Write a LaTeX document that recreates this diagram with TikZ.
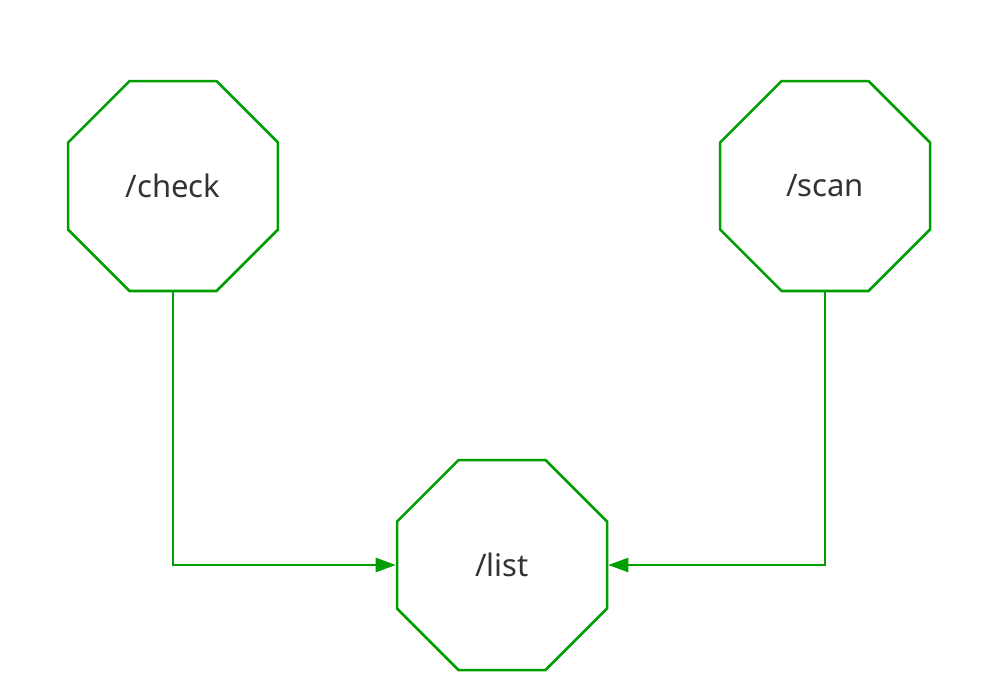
\documentclass[tikz,border=0pt]{standalone}
\usepackage{fontspec}
\setmainfont{Noto Sans}
\usetikzlibrary{shapes.geometric,arrows.meta}
\definecolor{grn}{HTML}{009E00}
\definecolor{txt}{HTML}{333333}
\tikzset{
  oct/.style={regular polygon, regular polygon sides=8,
    minimum size=227.3pt, inner sep=0pt, draw=grn, line width=2.5pt,
    text=txt, font=\fontsize{31}{36}\selectfont},
  conn/.style={draw=grn, line width=2.5pt, -{Triangle[length=20pt,width=14pt]}}
}
\begin{document}
\begin{tikzpicture}[x=1pt,y=-1pt]
\useasboundingbox (0,0) rectangle (981,696);
\node[oct] (check) at (173,186) {/check};
\node[oct] (scan) at (825,186) {/scan};
\node[oct] (list) at (502,565) {/list};
\draw[conn] (check.south) |- (list.west);
\draw[conn] (scan.south) |- (list.east);
\end{tikzpicture}
\end{document}
